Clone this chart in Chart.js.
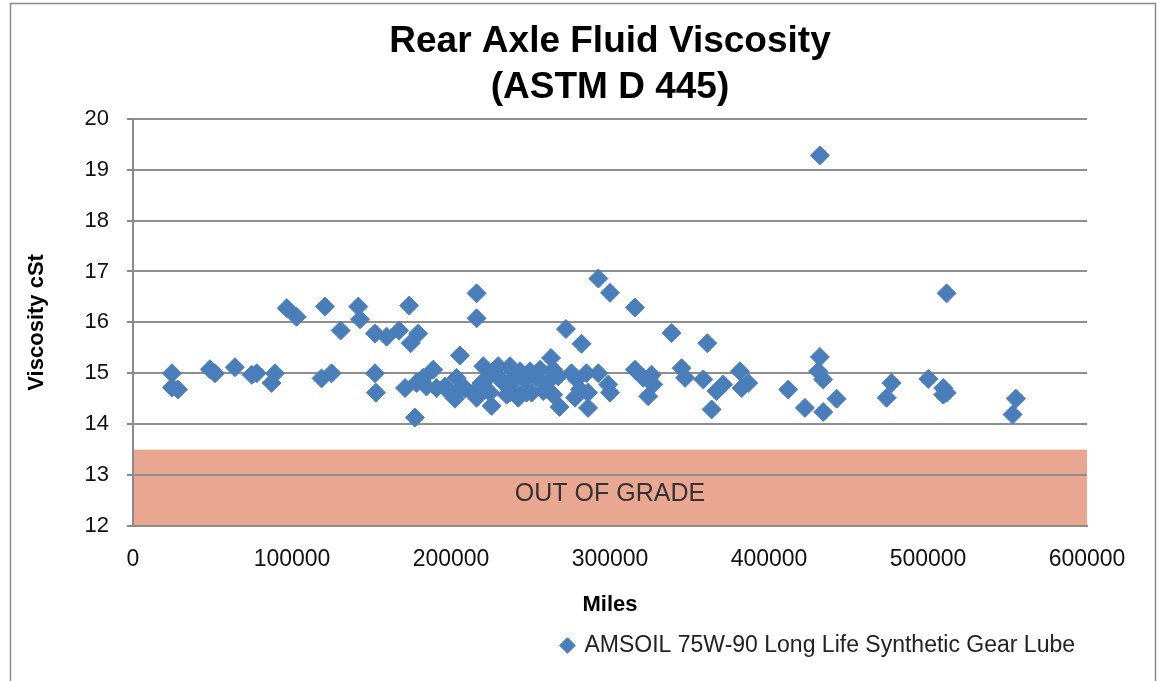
<!DOCTYPE html>
<html>
<head>
<meta charset="utf-8">
<script src="https://cdn.jsdelivr.net/npm/chart.js@4.4.0/dist/chart.umd.min.js"></script>
<style>
  html, body { margin: 0; padding: 0; background: #fff; }
  #wrap { width: 1165px; height: 681px; }
</style>
</head>
<body>
<div id="wrap"><canvas id="chart" width="1165" height="681"></canvas></div>
<script>
// miles driven vs viscosity (cSt)
const seriesName = 'AMSOIL 75W-90 Long Life Synthetic Gear Lube';
const miles = [
  24500, 24500, 28300, 48400, 51600, 64100, 74700, 77800, 87200, 89300,
  96700, 102900, 118600, 120750, 124900, 130600, 141700, 142800, 152200, 152200,
  152800, 159500, 167400, 171100, 173700, 174600, 177300, 178400, 179400, 182500,
  184600, 188800, 190900, 196200, 197200, 202500, 203500, 205600, 205600, 209000,
  214000, 216100, 216100, 216100, 219200, 220300, 222300, 224500, 225500, 226600,
  229700, 231800, 232900, 235000, 237100, 237100, 238500, 239100, 240200, 242300,
  243400, 243400, 246500, 247500, 249700, 250700, 253800, 256000, 258000, 261200,
  262900, 264300, 264300, 267400, 268300, 272300, 275800, 278000, 279000, 281100,
  282100, 285200, 286200, 286200, 292700, 292700, 298900, 300000, 300000, 315700,
  315700, 320900, 324000, 326100, 327200, 338700, 345000, 347200, 358700, 361200,
  363900, 367000, 371200, 381700, 382800, 386900, 412100, 422600, 431000, 432000,
  432000, 434100, 434100, 442500, 474000, 477000, 500200, 509600, 509600, 511700,
  511700, 553200, 555300
];
const viscosity = [
  15.00, 14.72, 14.68, 15.08, 15.00, 15.12, 14.97, 15.00, 14.81, 15.00,
  16.28, 16.11, 14.90, 16.31, 15.00, 15.84, 16.31, 16.06, 15.78, 15.00,
  14.62, 15.72, 15.84, 14.71, 16.33, 15.59, 14.13, 14.81, 15.78, 14.91,
  14.74, 15.07, 14.71, 14.74, 14.68, 14.50, 14.91, 15.35, 14.68, 14.70,
  14.62, 16.57, 16.08, 14.52, 14.81, 15.14, 14.88, 14.62, 14.36, 15.04,
  15.14, 14.88, 14.81, 14.58, 15.14, 14.62, 15.07, 14.88, 14.88, 14.52,
  15.04, 14.58, 14.88, 14.62, 15.04, 14.62, 14.91, 15.07, 14.65, 14.84,
  15.30, 15.07, 14.58, 14.94, 14.34, 15.87, 15.00, 14.52, 14.88, 14.68,
  15.58, 15.00, 14.32, 14.62, 16.86, 15.00, 14.78, 16.58, 14.62, 16.29,
  15.07, 14.91, 14.55, 14.97, 14.78, 15.79, 15.10, 14.91, 14.88, 15.59,
  14.29, 14.65, 14.78, 15.04, 14.71, 14.81, 14.68, 14.32, 15.04, 15.32,
  19.28, 14.88, 14.24, 14.50, 14.52, 14.81, 14.89, 14.71, 14.58, 16.57,
  14.62, 14.19, 14.50
];

// out of grade zone
const bandFrom = 12;
const bandTo = 13.5;
const bandText = 'OUT OF GRADE';
const bandTextAt = 12.62;

const font = "'Liberation Sans', Arial, sans-serif";

const points = miles.map((m, i) => ({ x: m, y: viscosity[i] }));

const bandPlugin = {
  id: 'band',
  beforeDraw(chart) {
    const ctx = chart.ctx;
    const xs = chart.scales.x, ys = chart.scales.y;
    const x0 = xs.getPixelForValue(xs.min), x1 = xs.getPixelForValue(xs.max);
    const y0 = ys.getPixelForValue(bandTo), y1 = ys.getPixelForValue(bandFrom);
    ctx.save();
    ctx.fillStyle = '#e9a690';
    ctx.fillRect(x0, y0, x1 - x0, y1 - y0);
    ctx.fillStyle = '#333';
    ctx.font = '25px ' + font;
    ctx.textAlign = 'center';
    ctx.textBaseline = 'middle';
    ctx.fillText(bandText, (x0 + x1) / 2, ys.getPixelForValue(bandTextAt));
    ctx.restore();
  },
  afterDraw(chart) {
    // outer frame like the spreadsheet chart border
    const ctx = chart.ctx;
    ctx.save();
    ctx.strokeStyle = '#8a8a8a';
    ctx.lineWidth = 1.5;
    ctx.strokeRect(10.5, 3.5, 1145, 700);
    ctx.restore();
  }
};

new Chart(document.getElementById('chart'), {
  type: 'scatter',
  data: {
    datasets: [{
      label: seriesName,
      data: points,
      pointStyle: 'rectRot',
      pointRadius: 9.5,
      pointHoverRadius: 9.5,
      backgroundColor: '#4a7ebb',
      borderColor: '#4a7ebb',
      borderWidth: 1
    }]
  },
  options: {
    responsive: false,
    animation: false,
    layout: { padding: { left: 24, right: 78, top: 0, bottom: 14 } },
    plugins: {
      title: {
        display: true,
        text: ['Rear Axle Fluid Viscosity', '(ASTM D 445)'],
        fullSize: false,
        color: '#000',
        font: { family: font, size: 37, weight: 'bold', lineHeight: 1.24 },
        padding: { top: 19, bottom: 8 }
      },
      legend: {
        position: 'bottom',
        align: 'end',
        labels: {
          usePointStyle: true,
          boxWidth: 11,
          boxHeight: 11,
          color: '#222',
          font: { family: font, size: 23 },
          padding: 12
        }
      },
      tooltip: { enabled: false }
    },
    scales: {
      x: {
        type: 'linear',
        min: 0,
        max: 600000,
        ticks: {
          stepSize: 100000,
          color: '#111',
          font: { family: font, size: 23 },
          padding: 14,
          maxRotation: 0,
          callback: (v) => String(v)
        },
        grid: { display: false, drawTicks: true, tickLength: 6, tickColor: '#8a8a8a' },
        border: { display: true, color: '#8a8a8a', width: 2 },
        title: {
          display: true,
          text: 'Miles',
          color: '#000',
          font: { family: font, size: 22, weight: 'bold' },
          padding: { top: 4, bottom: 4 }
        }
      },
      y: {
        min: 12,
        max: 20,
        afterFit(scale) { scale.width = 109; },
        ticks: {
          stepSize: 1,
          color: '#111',
          font: { family: font, size: 22 },
          padding: 18
        },
        grid: { color: '#8e8e8e', lineWidth: 2, tickLength: 6, tickColor: '#8a8a8a' },
        border: { display: true, color: '#8a8a8a', width: 2 },
        title: {
          display: true,
          text: 'Viscosity cSt',
          color: '#000',
          font: { family: font, size: 22, weight: 'bold' },
          padding: { top: 0, bottom: 4 }
        }
      }
    }
  },
  plugins: [bandPlugin]
});
</script>
</body>
</html>
